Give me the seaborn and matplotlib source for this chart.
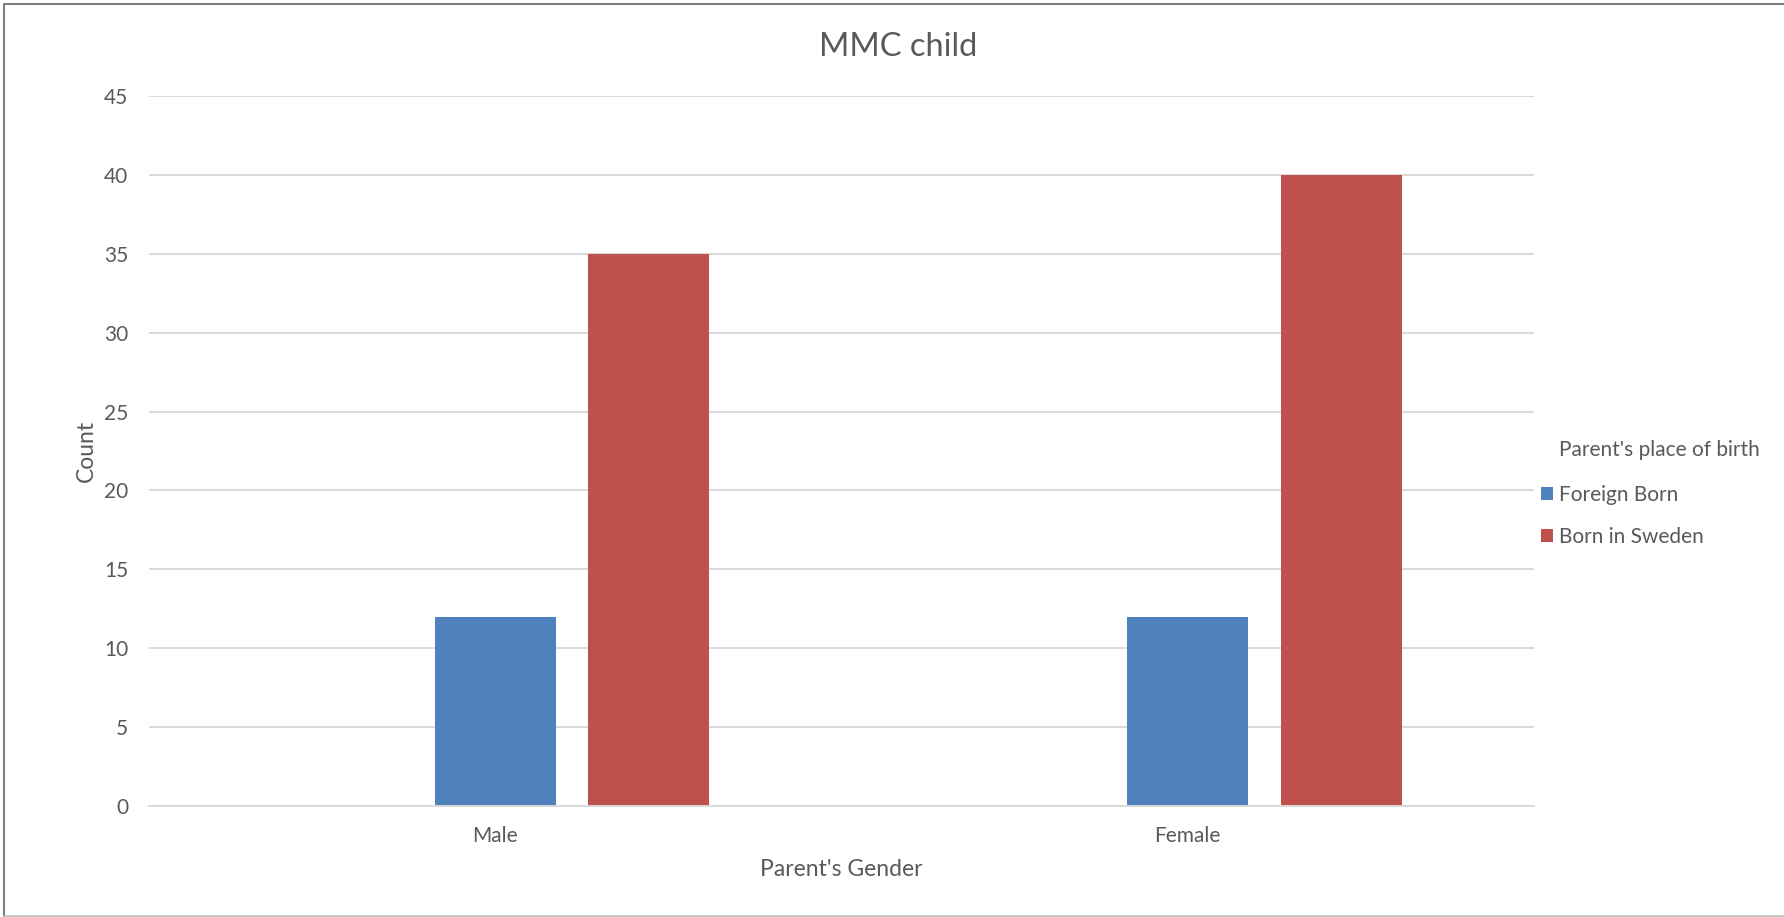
import matplotlib
matplotlib.use("Agg")
import matplotlib.pyplot as plt
from matplotlib.patches import Patch
from matplotlib.lines import Line2D
import pandas as pd
import seaborn as sns

# Chart data
genders = ["Male", "Female"]
foreign_born = [12, 12]
born_in_sweden = [35, 40]
# The workbook's first series is blank; it still occupies a slot in each group
series_order = [" ", "Foreign Born", "Born in Sweden"]
series_colors = {" ": "#FFFFFF", "Foreign Born": "#4F81BD", "Born in Sweden": "#C0504D"}
y_ticks = [0, 5, 10, 15, 20, 25, 30, 35, 40, 45]

df = pd.DataFrame({
    "Parent's Gender": genders * 2,
    "Parent's place of birth": ["Foreign Born"] * 2 + ["Born in Sweden"] * 2,
    "Count": foreign_born + born_in_sweden,
})

sns.set_theme(style="white")
plt.rcParams["font.family"] = ["Lato", "DejaVu Sans"]
TEXT = "#595959"
GRID = "#D9D9D9"

W, H = 1784, 917
fig = plt.figure(figsize=(W / 100, H / 100), dpi=100)
ax = fig.add_axes([149 / W, (H - 806) / H, (1534 - 149) / W, (806 - 96) / H])

sns.barplot(
    data=df, x="Parent's Gender", y="Count", hue="Parent's place of birth",
    order=genders, hue_order=series_order, palette=series_colors,
    width=0.6645, gap=0.21, linewidth=0, saturation=1, legend=False, ax=ax,
    errorbar=None,
)

ax.set_xlim(-0.5, 1.5)
ax.set_ylim(0, 45)
ax.set_yticks(y_ticks)
ax.yaxis.grid(True, color=GRID, linewidth=1.4)
ax.set_axisbelow(True)
for side in ["top", "right", "left"]:
    ax.spines[side].set_visible(False)
ax.spines["bottom"].set_color(GRID)
ax.spines["bottom"].set_linewidth(1.4)
ax.tick_params(axis="both", length=0, labelsize=15, labelcolor=TEXT)
ax.tick_params(axis="y", pad=15)
ax.tick_params(axis="x", pad=14.5)

ax.set_xlabel("Parent's Gender", fontsize=16.5, color=TEXT)
ax.set_ylabel("Count", fontsize=16.5, color=TEXT)
ax.xaxis.set_label_coords(0.5, -(859 - 806) / (806 - 96))
ax.yaxis.set_label_coords(-(149 - 97) / (1534 - 149), 0.5)

fig.text(898 / W, 1 - 56 / H, "MMC child", fontsize=23.5, color=TEXT,
         ha="center", va="baseline")

# Legend: title on its own line, then colour swatches
fig.text(1559 / W, 1 - 456 / H, "Parent's place of birth", fontsize=15,
         color=TEXT, ha="left", va="baseline")
handles = [Patch(facecolor=series_colors[s], edgecolor="none") for s in series_order[1:]]
leg = fig.legend(
    handles, series_order[1:], loc="upper left",
    bbox_to_anchor=(1541 / W, 1 - 485 / H), frameon=False, borderpad=0,
    borderaxespad=0, fontsize=15, handlelength=0.58, handleheight=0.58,
    handletextpad=0.29, labelspacing=1.06, labelcolor=TEXT,
)

# Chart area border
fig.add_artist(Line2D([4 / W, 4 / W], [1 - 4 / H, 1 - 916 / H], color="#7F7F7F", linewidth=1.5))
fig.add_artist(Line2D([4 / W, 1], [1 - 4 / H, 1 - 4 / H], color="#7F7F7F", linewidth=1.5))
fig.add_artist(Line2D([4 / W, 1], [1 - 916 / H, 1 - 916 / H], color="#BFBFBF", linewidth=1.2))

fig.savefig("out.png", dpi=100, facecolor="white")
